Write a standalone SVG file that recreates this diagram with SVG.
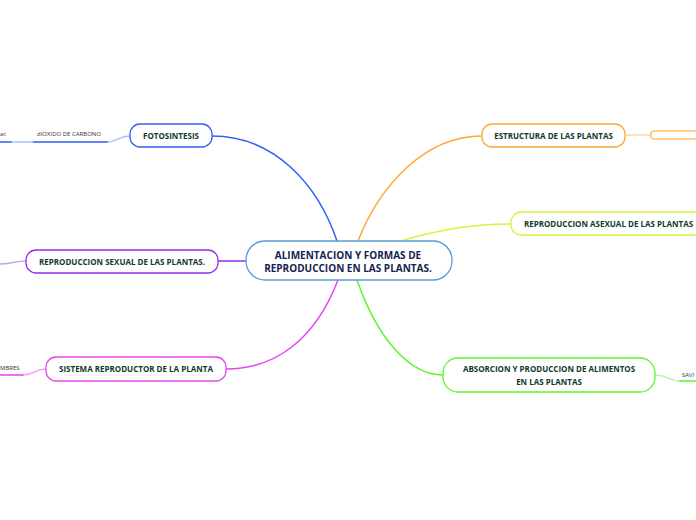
<svg xmlns="http://www.w3.org/2000/svg" width="696" height="520" viewBox="0 0 696 520">
<style>
.node{fill:#fff;stroke-width:1.3}
.t{font-family:"Open Sans","Noto Sans",sans-serif;font-weight:bold;font-size:8px;fill:#0f3a2c;text-anchor:middle}
.ct{font-family:"Open Sans","Noto Sans",sans-serif;font-weight:bold;font-size:10px;fill:#17234f;text-anchor:middle}
.s{font-family:"Open Sans","Noto Sans",sans-serif;font-size:6px;fill:#333}
.c{fill:none;stroke-width:1.5;stroke-linecap:round}
</style>
<rect width="696" height="520" fill="#fff"/>
<g id="connectors">
<path class="c" stroke="#2f5ff5" d="M337,241 C318,185 275,136 212,136"/>
<path class="c" stroke="#ffa733" d="M358,241 C380,185 425,136 482,136"/>
<path class="c" stroke="#d6f43c" d="M401,241 C440,229 475,224 511,224"/>
<path class="c" stroke="#5df52b" d="M357,280 C378,340 410,375 443,375"/>
<path class="c" stroke="#e545ee" d="M338,280 C315,340 275,369 226,369"/>
<path class="c" stroke="#9031f0" d="M246,261 L218,261"/>
<path class="c" stroke="#a9c0fa" stroke-width="1.2" d="M107,142 C118,142 118,136 130,136"/>
<path class="c" stroke="#2f5ff5" d="M33,142 L107,142"/>
<path class="c" stroke="#a9c0fa" stroke-width="1.2" d="M11,142 L33,142"/>
<path class="c" stroke="#2f5ff5" d="M0,142 L11,142"/>
<path class="c" stroke="#c7a3f5" stroke-width="1.2" d="M0,264 C12,264 14,261 26,261"/>
<path class="c" stroke="#f1a6f3" stroke-width="1.2" d="M23,375 C35,375 34,369 46,369"/>
<path class="c" stroke="#e545ee" d="M0,375 L23,375"/>
<path class="c" stroke="#ffd9a3" stroke-width="1.2" d="M625,135 L651,135"/>
<path class="c" stroke="#b4f9a0" stroke-width="1.2" d="M655,375 C668,375 668,381 680,381"/>
<path class="c" stroke="#5df52b" d="M680,381 L696,381"/>
</g>
<g id="central">
<rect class="node" stroke="#5b9bd5" x="246" y="241" width="206" height="39" rx="19"/>
<text class="ct" x="348" y="258.5">ALIMENTACION Y FORMAS DE</text>
<text class="ct" x="348" y="272">REPRODUCCION EN LAS PLANTAS.</text>
</g>
<g id="fotosintesis">
<rect class="node" stroke="#2f5ff5" x="130" y="124" width="82" height="23" rx="10"/>
<text class="t" x="171" y="138.5">FOTOSINTESIS</text>
</g>
<g id="dioxido">
<text class="s" x="37" y="136">dIOXIDO DE CARBONO</text>
</g>
<g id="ac">
<text class="s" x="0" y="136">ac</text>
</g>
<g id="sexual">
<rect class="node" stroke="#9031f0" x="26" y="250" width="192" height="23" rx="10"/>
<text class="t" x="122" y="264.5">REPRODUCCION SEXUAL DE LAS PLANTAS.</text>
</g>
<g id="sistema">
<rect class="node" stroke="#e545ee" x="46" y="357" width="180" height="24" rx="10"/>
<text class="t" x="136" y="372">SISTEMA REPRODUCTOR DE LA PLANTA</text>
</g>
<g id="hombres">
<text class="s" x="0" y="370" font-size="5.5">MBRES</text>
</g>
<g id="estructura">
<rect class="node" stroke="#ffa733" x="482" y="124" width="143" height="23" rx="10"/>
<text class="t" x="553.5" y="138.5">ESTRUCTURA DE LAS PLANTAS</text>
</g>
<g id="estructura-sub">
<rect fill="#fff" stroke="#ffc266" stroke-width="1.5" x="651" y="131" width="60" height="8" rx="3"/>
</g>
<g id="asexual">
<rect class="node" stroke="#d6f43c" x="511" y="212" width="200" height="23" rx="10"/>
<text class="t" x="608.5" y="226.5">REPRODUCCION ASEXUAL DE LAS PLANTAS</text>
</g>
<g id="absorcion">
<rect class="node" stroke="#5df52b" x="443" y="358" width="212" height="34" rx="15"/>
<text class="t" x="549" y="372">ABSORCION Y PRODUCCION DE ALIMENTOS</text>
<text class="t" x="549" y="384.5">EN LAS PLANTAS</text>
</g>
<g id="savia">
<text class="s" x="682" y="377">SAVI</text>
</g>
</svg>
